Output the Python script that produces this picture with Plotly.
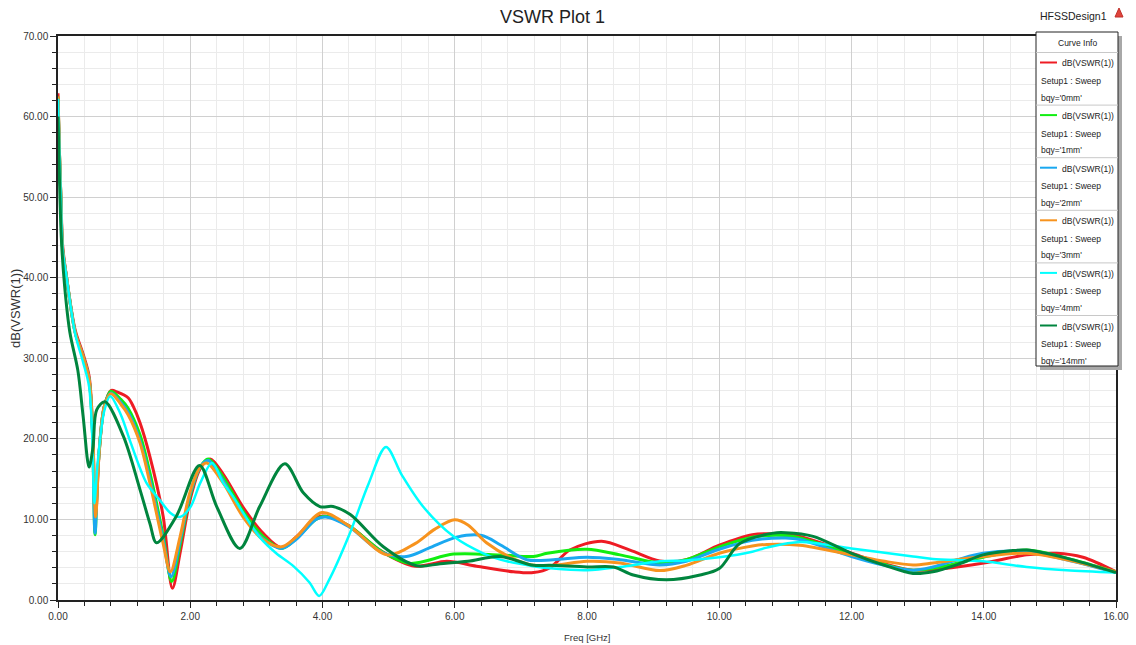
import plotly.graph_objects as go

# ---------------- data ----------------
bqy_labels = ["0mm", "1mm", "2mm", "3mm", "4mm", "14mm"]

freq_0mm = [0, 0.02, 0.045, 0.07, 0.13, 0.26, 0.38, 0.47, 0.52, 0.57, 0.62, 0.7, 0.8, 0.9, 1.06, 1.14, 1.24,
            1.39, 1.59, 1.73, 1.85, 2.0, 2.15, 2.3, 2.5, 2.8, 3.1, 3.38, 3.6, 3.9, 4.05, 4.4, 4.9, 5.4, 5.88,
            6.33, 6.89, 7.19, 7.44, 7.74, 8.22, 8.65, 9.1, 9.5, 10.0, 10.5, 10.9, 11.22, 12.0, 12.5, 12.93,
            13.4, 14.0, 14.65, 15.1, 15.5, 16.0]
vswr_0mm = [62.9, 56, 49.7, 44, 40, 33.5, 30.5, 27.8, 22, 10.5, 18, 24, 26, 25.8, 25.1, 24.0, 22.0,
            17.8, 10.4, 1.45, 6, 12.5, 16.3, 17.5, 15.6, 11.5, 8.3, 6.5, 7.8, 10.2, 10.4, 9.2, 6.0, 4.2, 4.8,
            4.2, 3.5, 3.4, 4.0, 6.2, 7.3, 6.2, 4.85, 5.0, 6.8, 8.1, 8.2, 7.9, 5.8, 4.5, 3.7,
            3.9, 4.6, 5.6, 5.8, 5.3, 3.5]

freq_1mm = [0, 0.02, 0.045, 0.07, 0.13, 0.26, 0.38, 0.47, 0.52, 0.56, 0.61, 0.7, 0.8, 0.95, 1.06, 1.24,
            1.39, 1.59, 1.72, 1.85, 2.0, 2.15, 2.27, 2.5, 2.8, 3.1, 3.38, 3.6, 3.9, 4.05, 4.4, 4.9, 5.32,
            5.98, 6.68, 7.19, 7.4, 8.0, 8.5, 9.1, 9.5, 10.0, 10.5, 11.0, 11.22, 12.0, 12.5, 12.93, 13.4,
            13.99, 14.65, 15.25, 16.0]
vswr_1mm = [62.5, 56, 49.5, 43.5, 40, 33.2, 30.2, 27.4, 21, 8.1, 17, 24, 25.9, 24.9, 23.8, 20.5,
            15.8, 8, 2.3, 7, 13, 16.5, 17.5, 15.2, 11, 7.9, 6.4, 7.6, 10, 10.4, 9.2, 6.0, 4.55,
            5.7, 5.6, 5.4, 5.8, 6.3, 5.6, 4.6, 5.0, 6.6, 7.8, 8.0, 7.7, 5.7, 4.4, 3.7, 4.2,
            5.3, 6.2, 5.2, 3.5]

freq_2mm = [0, 0.02, 0.045, 0.07, 0.13, 0.26, 0.38, 0.47, 0.52, 0.56, 0.61, 0.7, 0.8, 0.95, 1.06, 1.24,
            1.39, 1.59, 1.71, 1.85, 2.0, 2.15, 2.27, 2.5, 2.8, 3.1, 3.38, 3.6, 3.9, 4.05, 4.4, 4.9, 5.27,
            5.6, 6.03, 6.41, 6.7, 7.09, 7.49, 8.0, 8.5, 9.1, 9.5, 10.0, 10.5, 11.0, 11.22, 12.0, 12.5,
            12.93, 13.23, 13.6, 13.99, 14.65, 15.25, 16.0]
vswr_2mm = [62, 56, 49.5, 43.5, 40, 33.2, 30.2, 27.4, 21, 8.3, 17, 24, 25.7, 24.5, 23.3, 19.8,
            15, 7.5, 2.9, 7.5, 13.2, 16.5, 17.3, 14.8, 10.5, 7.6, 6.4, 7.5, 10, 10.3, 9.1, 5.9, 5.4,
            6.4, 7.8, 8.0, 6.8, 5.0, 5.0, 5.3, 5.0, 4.35, 4.8, 6.3, 7.4, 7.7, 7.5, 5.4, 4.3,
            3.7, 4.1, 5.0, 5.8, 6.0, 5.0, 3.4]

freq_3mm = [0, 0.02, 0.045, 0.07, 0.13, 0.26, 0.38, 0.47, 0.52, 0.57, 0.62, 0.7, 0.8, 0.95, 1.06, 1.24,
            1.39, 1.59, 1.70, 1.85, 2.0, 2.15, 2.25, 2.5, 2.8, 3.1, 3.38, 3.6, 3.99, 4.4, 4.98, 5.4, 5.7,
            6.0, 6.2, 6.48, 6.89, 7.19, 7.49, 8.0, 8.5, 9.1, 9.5, 10.0, 10.5, 10.72, 11.22, 12.0, 12.5,
            12.93, 13.23, 13.6, 13.99, 14.65, 15.25, 16.0]
vswr_3mm = [62.5, 56, 49.5, 43.5, 40, 33.2, 30.2, 27.4, 22, 10.3, 18, 24, 25.6, 24.3, 23, 19.5,
            14.5, 7.0, 3.5, 8, 13.5, 16.5, 17.0, 14.5, 10.3, 7.5, 6.6, 7.8, 10.86, 9.2, 5.6, 7.0, 8.8,
            9.95, 9.3, 7.1, 5.1, 4.3, 4.3, 4.8, 4.6, 3.65, 4.3, 5.8, 6.7, 6.9, 6.8, 5.6, 4.8,
            4.35, 4.6, 5.0, 5.4, 5.8, 5.0, 3.5]

freq_4mm = [0, 0.02, 0.045, 0.07, 0.13, 0.26, 0.38, 0.47, 0.52, 0.55, 0.6, 0.7, 0.79, 0.95, 1.1, 1.34,
            1.54, 1.7, 1.845, 2.0, 2.15, 2.33, 2.5, 2.65, 2.8, 3.05, 3.3, 3.56, 3.8, 3.95, 4.1, 4.4, 4.7,
            4.96, 5.2, 5.52, 5.98, 6.43, 6.79, 7.19, 7.49, 8.0, 8.5, 9.1, 9.5, 10.0, 10.5, 10.72, 11.22,
            12.0, 12.93, 13.23, 13.99, 14.65, 15.25, 16.0]
vswr_4mm = [62.2, 56, 49.5, 43.5, 40, 33, 29.5, 26.5, 20, 12, 17, 23.5, 25.3, 23, 19.5, 14.5,
            12.4, 10.8, 10.3, 11.5, 14.5, 17.0, 14.5, 12.8, 10.8, 7.8, 5.8, 4.2, 2.2, 0.5, 2.5, 8, 14.5,
            19.0, 15.5, 11.6, 7.9, 5.8, 4.8, 4.2, 3.9, 3.7, 4.1, 4.8, 4.9, 5.3, 6.0, 6.5, 7.2,
            6.4, 5.4, 5.1, 4.8, 4.1, 3.7, 3.4]

freq_14mm = [0, 0.02, 0.05, 0.1, 0.18, 0.30, 0.38, 0.47, 0.53, 0.585, 0.71, 0.99, 1.24, 1.39, 1.49, 1.79,
             2.14, 2.40, 2.75, 3.05, 3.43, 3.71, 3.96, 4.16, 4.42, 4.92, 5.42, 5.78, 6.2, 6.68, 7.19, 7.44,
             8.0, 8.4, 8.7, 9.2, 9.71, 10.0, 10.31, 10.82, 11.0, 11.42, 12.0, 12.5, 12.93, 13.23, 13.6,
             13.99, 14.4, 14.65, 15.25, 16.0]
vswr_14mm = [60, 53, 45, 39, 33.2, 28.5, 22.8, 16.5, 19, 23.6, 24.6, 20.3, 13.7, 9.5, 7.1, 10.4,
             16.7, 11.6, 6.4, 11.6, 16.9, 13.3, 11.6, 11.6, 10.6, 6.6, 4.25, 4.5, 4.8, 5.4, 4.3, 4.3,
             4.1, 4.1, 3.1, 2.5, 3.1, 3.9, 7.0, 8.3, 8.35, 7.9, 5.8, 4.3, 3.3, 3.5, 4.4,
             5.6, 6.1, 6.2, 5.2, 3.4]

x_ticks = [0, 2, 4, 6, 8, 10, 12, 14, 16]
y_ticks = [0, 10, 20, 30, 40, 50, 60, 70]

# ---------------- styling ----------------
colors = ["#ee1c24", "#11ee11", "#1aa8f0", "#f7931e", "#00ffff", "#00853e"]
widths = [3, 3, 3, 3, 2.5, 3]
series = [(freq_0mm, vswr_0mm), (freq_1mm, vswr_1mm), (freq_2mm, vswr_2mm),
          (freq_3mm, vswr_3mm), (freq_4mm, vswr_4mm), (freq_14mm, vswr_14mm)]

W, H = 1136, 645
L, R, T, B = 58, 1116, 36, 600
FONT = "Liberation Sans, Arial, sans-serif"
TXT = "#333333"


def px(x):
    return (x - L) / (R - L)


def py(y):
    return (B - y) / (B - T)


fig = go.Figure()
for (f, v), c, w, lab in zip(series, colors, widths, bqy_labels):
    fig.add_trace(go.Scatter(x=f, y=v, mode="lines", name=lab, showlegend=False,
                             line=dict(color=c, width=w, shape="spline", smoothing=0.9)))

fig.update_layout(
    width=W, height=H, autosize=False,
    margin=dict(l=L, r=W - R, t=T, b=H - B, pad=0),
    paper_bgcolor="white", plot_bgcolor="white",
    font=dict(family=FONT, size=10, color=TXT),
)

axis_common = dict(showline=True, linecolor="#222222", linewidth=1.5, mirror=True,
                   ticks="outside", ticklen=6, tickcolor="#222222", tickwidth=1,
                   showgrid=True, gridcolor="#d0d0d0", gridwidth=1, zeroline=False,
                   automargin=False,
                   tickfont=dict(family=FONT, size=10, color=TXT))

fig.update_xaxes(range=[0, 16], tickvals=x_ticks, ticktext=[f"{t:.2f}" for t in x_ticks],
                 minor=dict(dtick=0.4, ticks="outside", ticklen=4, tickcolor="#222222",
                            showgrid=True, gridcolor="#ebebeb", gridwidth=1),
                 **axis_common)
fig.update_yaxes(range=[0, 70], tickvals=y_ticks, ticktext=[f"{t:.2f}" for t in y_ticks],
                 minor=dict(dtick=2, ticks="outside", ticklen=4, tickcolor="#222222",
                            showgrid=True, gridcolor="#ebebeb", gridwidth=1),
                 **axis_common)

shapes = []
annotations = []

# axis titles
annotations.append(dict(text="Freq [GHz]", x=px(587), y=py(630), xref="paper", yref="paper",
                        showarrow=False, xanchor="center", yanchor="top",
                        font=dict(family=FONT, size=9.5, color=TXT)))
annotations.append(dict(text="dB(VSWR(1))", x=px(15), y=py(309), xref="paper", yref="paper",
                        showarrow=False, xanchor="center", yanchor="middle", textangle=-90,
                        font=dict(family=FONT, size=13, color=TXT)))

# title and design name
annotations.append(dict(text="VSWR Plot 1", x=px(552), y=py(17), xref="paper", yref="paper",
                        showarrow=False, xanchor="center", yanchor="middle",
                        font=dict(family=FONT, size=18, color="#222222")))
annotations.append(dict(text="HFSSDesign1", x=px(1038), y=py(16), xref="paper", yref="paper",
                        showarrow=False, xanchor="left", yanchor="middle",
                        font=dict(family=FONT, size=10.5, color="#222222")))
# small logo
shapes.append(dict(type="path", xref="paper", yref="paper",
                   path=f"M {px(1115)} {py(17)} L {px(1119)} {py(8)} L {px(1123)} {py(17)} Z",
                   fillcolor="#e0443c", line=dict(color="#c0302a", width=1)))

# legend box
box_l, box_r, box_t, box_b = 1036, 1118, 32, 366
shapes.append(dict(type="rect", xref="paper", yref="paper", x0=px(box_l + 4), x1=px(box_r + 4),
                   y0=py(box_b + 4), y1=py(box_t + 4), fillcolor="#a8a8a8", line=dict(width=0), layer="above"))
shapes.append(dict(type="rect", xref="paper", yref="paper", x0=px(box_l), x1=px(box_r),
                   y0=py(box_b), y1=py(box_t), fillcolor="white", line=dict(color="#222222", width=1),
                   layer="above"))
annotations.append(dict(text="Curve Info", x=px((box_l + box_r) / 2), y=py(43), xref="paper", yref="paper",
                        showarrow=False, xanchor="center", yanchor="middle",
                        font=dict(family=FONT, size=8.5, color="#222222")))
sep0 = 52.5
step = 52.6
shapes.append(dict(type="line", xref="paper", yref="paper", x0=px(box_l), x1=px(box_r),
                   y0=py(sep0), y1=py(sep0), line=dict(color="#c8c8c8", width=1), layer="above"))
for i, (c, lab) in enumerate(zip(colors, bqy_labels)):
    top = sep0 + i * step
    if i > 0:
        shapes.append(dict(type="line", xref="paper", yref="paper", x0=px(box_l), x1=px(box_r),
                           y0=py(top), y1=py(top), line=dict(color="#c8c8c8", width=1), layer="above"))
    ly = top + 10
    shapes.append(dict(type="line", xref="paper", yref="paper", x0=px(1040), x1=px(1057),
                       y0=py(ly), y1=py(ly), line=dict(color=c, width=2), layer="above"))
    annotations.append(dict(text="dB(VSWR(1))", x=px(1116), y=py(ly + 1), xref="paper", yref="paper",
                            showarrow=False, xanchor="right", yanchor="middle",
                            font=dict(family=FONT, size=8.5, color="#222222")))
    annotations.append(dict(text="Setup1 : Sweep", x=px(1039), y=py(ly + 18.5), xref="paper", yref="paper",
                            showarrow=False, xanchor="left", yanchor="middle",
                            font=dict(family=FONT, size=8.5, color="#222222")))
    annotations.append(dict(text=f"bqy='{lab}'", x=px(1039), y=py(ly + 35), xref="paper", yref="paper",
                            showarrow=False, xanchor="left", yanchor="middle",
                            font=dict(family=FONT, size=8.5, color="#222222")))

fig.update_layout(shapes=shapes, annotations=annotations)
fig.write_html("out.html")
